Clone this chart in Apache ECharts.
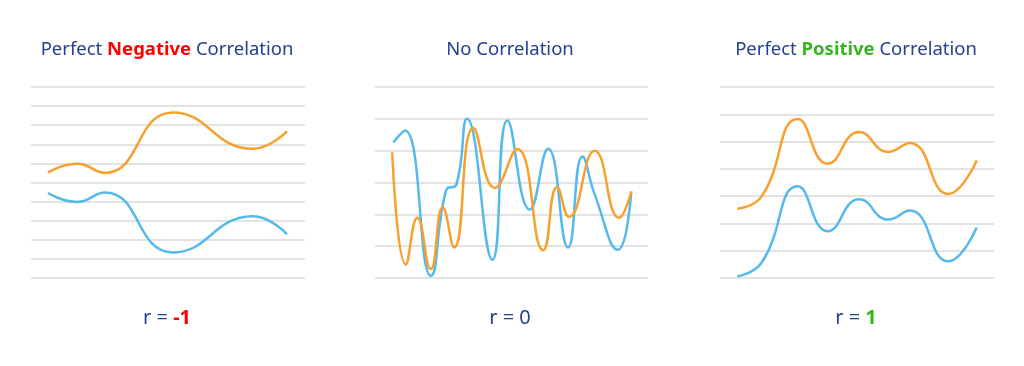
<!DOCTYPE html>
<html>
<head>
<meta charset="utf-8">
<script src="https://cdn.jsdelivr.net/npm/echarts@6/dist/echarts.min.js"></script>
<style>
html,body{margin:0;padding:0;background:#fff;}
#chart{width:1024px;height:366px;}
</style>
</head>
<body>
<div id="chart"></div>
<script>
// Panel 1: Perfect Negative Correlation (y in gridline units 0..10, x 0..10)
const negX      = [0.62, 1.68, 2.70, 5.18, 8.10, 9.34];
const negOrange = [5.53, 5.98, 5.50, 8.67, 6.77, 7.68];
const negBlue   = [4.45, 3.98, 4.48, 1.34, 3.23, 2.30];

// Panel 2: No Correlation (y 0..6)
const noBlueX   = [0.67, 1.10, 2.05, 2.61, 2.98, 3.37, 4.30, 4.85, 5.67, 6.34, 7.07, 7.60, 8.05, 8.90, 9.39];
const noBlue    = [4.26, 4.63, 0.07, 2.77, 2.93, 5.00, 0.57, 4.95, 2.15, 4.06, 0.96, 3.82, 2.62, 0.89, 2.72];
const noOrangeX = [0.63, 1.13, 1.55, 2.04, 2.48, 2.90, 3.60, 4.39, 5.21, 6.16, 6.67, 7.11, 8.05, 8.94, 9.39];
const noOrange  = [3.95, 0.42, 1.89, 0.28, 2.22, 0.96, 4.71, 2.83, 4.05, 0.87, 2.86, 1.92, 4.00, 1.89, 2.72];

// Panel 3: Perfect Positive Correlation (y 0..7)
const posX      = [0.63, 1.52, 2.84, 3.93, 5.08, 6.14, 6.93, 8.33, 9.37];
const posOrange = [2.54, 2.99, 5.83, 4.19, 5.35, 4.62, 4.95, 3.08, 4.31];
const posBlue   = [0.06, 0.57, 3.36, 1.71, 2.89, 2.14, 2.47, 0.61, 1.85];

const titles = [
  {pre: 'Perfect ', key: 'Negative', post: ' Correlation', keyStyle: 'neg'},
  {pre: 'No Correlation', key: '', post: '', keyStyle: 'neg'},
  {pre: 'Perfect ', key: 'Positive', post: ' Correlation', keyStyle: 'pos'}
];
const rLabels = [
  {pre: 'r = ', key: '-1', keyStyle: 'neg'},
  {pre: 'r = 0', key: '', keyStyle: 'neg'},
  {pre: 'r = ', key: '1', keyStyle: 'pos'}
];
const yMax = [10, 6, 7];

const ORANGE = '#F7A02E';
const BLUE = '#55B9EC';
const NAVY = '#24418F';
const FONT = 'Noto Sans';

const panels = [
  {left: 31, width: 274, center: 167},
  {left: 375, width: 273, center: 510},
  {left: 720, width: 274, center: 856}
];

function makeRich(size) {
  return {
    a: {fill: NAVY, fontSize: size, fontFamily: FONT, fontWeight: 'normal'},
    neg: {fill: '#FF0000', fontSize: size, fontFamily: FONT, fontWeight: 'bold'},
    pos: {fill: '#36B51F', fontSize: size, fontFamily: FONT, fontWeight: 'bold'}
  };
}
const titleRich = makeRich(18.5);
const rRich = makeRich(20);

function richText(t) {
  let s = '{a|' + t.pre + '}';
  if (t.key) s += '{' + t.keyStyle + '|' + t.key + '}';
  if (t.post) s += '{a|' + t.post + '}';
  return s;
}

const grid = panels.map(p => ({left: p.left, width: p.width, top: 87, height: 191}));
const xAxis = panels.map((p, i) => ({
  type: 'value', gridIndex: i, min: 0, max: 10,
  show: false
}));
const yAxis = panels.map((p, i) => ({
  type: 'value', gridIndex: i, min: 0, max: yMax[i], interval: 1,
  axisLine: {show: false}, axisTick: {show: false}, axisLabel: {show: false},
  splitLine: {show: true, lineStyle: {color: '#DADADA', width: 1.5}}
}));

function pairs(xs, ys) { return xs.map((x, i) => [x, ys[i]]); }
function line(xi, data, color) {
  return {
    type: 'line', xAxisIndex: xi, yAxisIndex: xi, data: data,
    smooth: 0.5, symbol: 'none',
    lineStyle: {color: color, width: 2.5}, itemStyle: {color: color},
    animation: false
  };
}

const series = [
  line(0, pairs(negX, negOrange), ORANGE),
  line(0, pairs(negX, negBlue), BLUE),
  line(1, pairs(noBlueX, noBlue), BLUE),
  line(1, pairs(noOrangeX, noOrange), ORANGE),
  line(2, pairs(posX, posOrange), ORANGE),
  line(2, pairs(posX, posBlue), BLUE)
];

const graphics = [];
panels.forEach((p, i) => {
  graphics.push({
    type: 'text', x: p.center, y: 50,
    style: {text: richText(titles[i]), rich: titleRich, fill: NAVY, align: 'center', verticalAlign: 'middle'}
  });
  graphics.push({
    type: 'text', x: p.center, y: 318,
    style: {text: richText(rLabels[i]), rich: rRich, fill: NAVY, align: 'center', verticalAlign: 'middle'}
  });
});

const chart = echarts.init(document.getElementById('chart'));
chart.setOption({
  backgroundColor: '#fff',
  animation: false,
  grid: grid, xAxis: xAxis, yAxis: yAxis, series: series,
  graphic: graphics
});
</script>
</body>
</html>
